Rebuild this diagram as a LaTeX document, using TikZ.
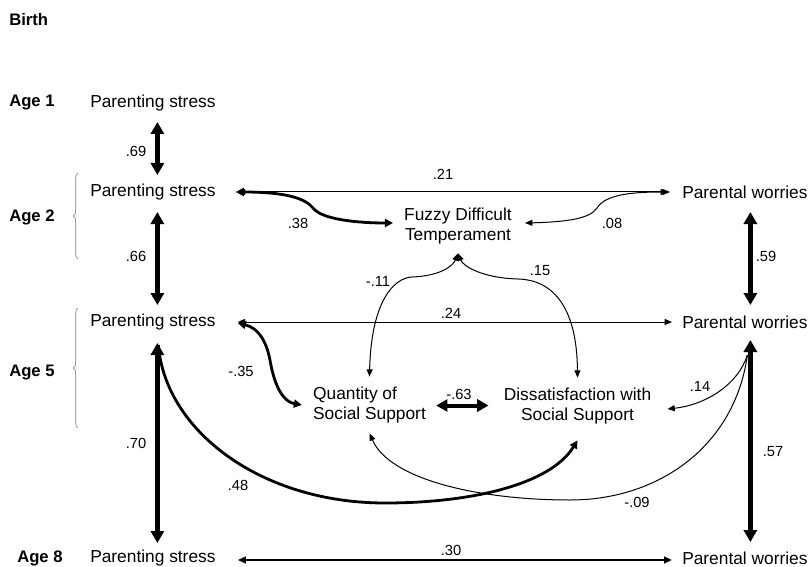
\documentclass[tikz,border=0pt]{standalone}
\usepackage{fontspec}
\setmainfont{Liberation Sans}
\usetikzlibrary{arrows.meta,calc,decorations.pathreplacing}
\begin{document}
\begin{tikzpicture}[x=0.75pt,y=-0.75pt,
  var/.style={inner sep=0pt, font=\fontsize{13}{15}\selectfont},
  agelbl/.style={inner sep=0pt, anchor=west, font=\fontsize{12.5}{14}\selectfont\bfseries},
  coef/.style={inner sep=0pt, font=\fontsize{11}{13}\selectfont},
  thinboth/.style={line width=0.75pt, {Triangle[length=5.5pt,width=4.5pt]}-{Triangle[length=5.5pt,width=4.5pt]}},
  thinone/.style={line width=0.75pt, -{Triangle[length=5.5pt,width=4.5pt]}},
  bigboth/.style={line width=3.4pt, {Triangle[length=9pt,width=9.75pt]}-{Triangle[length=9pt,width=9.75pt]}},
  curveboth/.style={line width=2.1pt, {Triangle[length=6pt,width=6pt]}-{Triangle[length=6pt,width=6pt]}},
  curveone/.style={line width=2.1pt, -{Triangle[length=6pt,width=6pt]}},
  medboth/.style={line width=3pt, {Triangle[length=8.5pt,width=9pt]}-{Triangle[length=8.5pt,width=9pt]}},
  lineboth/.style={line width=1.5pt, {Triangle[length=6pt,width=5pt]}-{Triangle[length=6pt,width=5pt]}},
  agebrace/.style={draw=gray, line width=0.5pt, decorate, decoration={brace, amplitude=3.5pt}}
]
\fill[white] (0,0) rectangle (809,565);

% time labels
\node[agelbl] (birth) at (9,20) {Birth};
\node[agelbl] (age1) at (9,103) {Age 1};
\node[agelbl] (age2) at (9,217) {Age 2};
\node[agelbl] (age5) at (9,373) {Age 5};
\node[agelbl] (age8) at (17,558) {Age 8};

% variables
\node[var, anchor=west] (ps1) at (90,103) {Parenting stress};
\node[var, anchor=west] (ps2) at (90,192) {Parenting stress};
\node[var, anchor=west] (ps5) at (90,322) {Parenting stress};
\node[var, anchor=west] (ps8) at (90,558) {Parenting stress};
\node[var, anchor=west] (pw2) at (682,192) {Parental worries};
\node[var, anchor=west] (pw5) at (682,322) {Parental worries};
\node[var, anchor=west] (pw8) at (682,558) {Parental worries};
\node[var, align=center] (fz) at (458,226) {Fuzzy Difficult\\Temperament};
\node[var, align=left] (qs) at (369.5,405) {Quantity of\\Social Support};
\node[var, align=center] (ds) at (577.5,406) {Dissatisfaction with\\Social Support};

% braces
\draw[agebrace] (78,259) -- (78,173);
\draw[agebrace] (78,428) -- (78,308);

% thin connectors
\draw[thinboth] ([shift={(22,0)}]ps2.east) -- ([shift={(-12,0)}]pw2.west);
\draw[thinboth] ([shift={(13,-3)}]fz.east) .. controls (565,222) and (590,219) .. (597,208)
  .. controls (605,195) and (630,192) .. ([shift={(-14,0)}]pw2.west);
\draw[thinboth] ([shift={(22,0)}]ps5.east) -- ([shift={(-10,0)}]pw5.west);
\draw[thinboth] ([shift={(0,9)}]fz.south) .. controls (453,266) and (440,276) .. (412,277)
  .. controls (392,278) and (371,305) .. ([shift={(0,-10)}]qs.north);
\draw[thinboth] ([shift={(0,9)}]fz.south) .. controls (463,266) and (482,278) .. (518,279)
  .. controls (555,280) and (577,310) .. ([shift={(0,-10)}]ds.north);
\draw[thinone] ([shift={(2.5,33)}]pw5.center) .. controls (738,385) and (705,405) .. ([shift={(16,3)}]ds.east);
\draw[thinone] ([shift={(2.5,33)}]pw5.center) .. controls (735,445) and (660,500) .. (570,500)
  .. controls (480,500) and (390,480) .. ([shift={(0,10)}]qs.south);

% thick curves
\draw[curveboth] ([shift={(20,0)}]ps2.east) .. controls (285,192) and (305,198) .. (313,208)
  .. controls (322,220) and (360,223) .. ([shift={(-11,-3)}]fz.west);
\draw[curveboth] ([shift={(22,1)}]ps5.east) .. controls (258,328) and (266,340) .. (270,360)
  .. controls (275,390) and (285,402) .. ([shift={(-11,0)}]qs.west);
\draw[curveone] ([shift={(5.5,23)}]ps5.center) .. controls (165,430) and (260,503) .. (385,503)
  .. controls (470,503) and (550,485) .. ([shift={(0,16)}]ds.south);

% straight thick arrows
\draw[bigboth] ([shift={(4.5,19)}]ps1.center) -- ([shift={(4.5,-17)}]ps2.center);
\draw[bigboth] ([shift={(4.5,20)}]ps2.center) -- ([shift={(4.5,-17)}]ps5.center);
\draw[bigboth] ([shift={(4.5,21)}]ps5.center) -- ([shift={(4.5,-15)}]ps8.center);
\draw[bigboth] ([shift={(5.5,20)}]pw2.center) -- ([shift={(5.5,-17)}]pw5.center);
\draw[bigboth] ([shift={(5.5,18)}]pw5.center) -- ([shift={(5.5,-16)}]pw8.center);
\draw[medboth] ([shift={(10,0.5)}]qs.east) -- ([shift={(-15,-0.5)}]ds.west);
\draw[lineboth] ([shift={(22,2)}]ps8.east) -- ([shift={(-10,2)}]pw8.west);

% coefficients
\node[coef] (c69) at (136,151) {.69};
\node[coef] (c66) at (136,256) {.66};
\node[coef] (c70) at (136,443) {.70};
\node[coef] (c21) at (443,174) {.21};
\node[coef] (c38) at (298,223) {.38};
\node[coef] (c08) at (612,223) {.08};
\node[coef] (c59) at (766,256) {.59};
\node[coef] (c24) at (451,313) {.24};
\node[coef] (c11) at (378,281) {-.11};
\node[coef] (c15) at (540,271) {.15};
\node[coef] (c35) at (241,371) {-.35};
\node[coef] (c63) at (459,394) {-.63};
\node[coef] (c14) at (700,386) {.14};
\node[coef] (c48) at (238,485) {.48};
\node[coef] (c09) at (637,502) {-.09};
\node[coef] (c57) at (773,452) {.57};
\node[coef] (c30) at (451,550) {.30};
\end{tikzpicture}
\end{document}
